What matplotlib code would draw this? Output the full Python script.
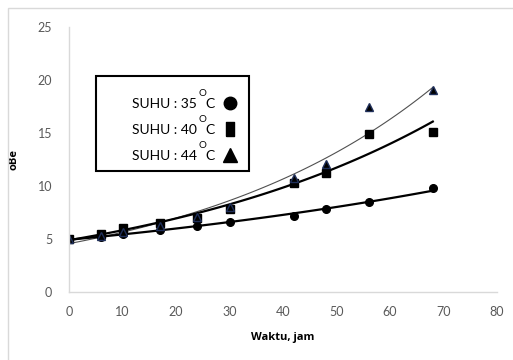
import numpy as np
import matplotlib
matplotlib.use("Agg")
import matplotlib.pyplot as plt
from matplotlib.patches import Rectangle

plt.rcParams['font.family'] = ['Lato', 'DejaVu Sans']

# waktu (jam)
waktu = [0, 6, 10, 17, 24, 30, 42, 48, 56, 68]

# oBe per suhu
suhu_35 = [5.0, 5.2, 5.45, 5.85, 6.2, 6.6, 7.2, 7.8, 8.5, 9.8]
suhu_40 = [5.0, 5.5, 6.0, 6.5, 7.0, 7.8, 10.3, 11.2, 14.9, 15.1]
suhu_44 = [5.0, 5.3, 5.7, 6.2, 7.1, 8.05, 10.8, 12.05, 17.5, 19.05]

suhu = ['35', '40', '44']
x_ticks = [0, 10, 20, 30, 40, 50, 60, 70, 80]
y_ticks = [0, 5, 10, 15, 20, 25]


def exp_trend(x, y):
    # trendline eksponensial seperti di Excel
    b, a = np.polyfit(x, np.log(y), 1)
    xs = np.linspace(min(x), max(x), 100)
    return xs, np.exp(a) * np.exp(b * xs)


fig = plt.figure(figsize=(5.13, 3.6), dpi=100)
fig.patches.append(Rectangle((8 / 513, -0.1), 1.2, (352 / 360) + 0.1,
                             transform=fig.transFigure, fill=False,
                             edgecolor='#d9d9d9', linewidth=1))
ax = fig.add_axes([69 / 513, 68 / 360, 428 / 513, 265 / 360])

x = np.array(waktu)
xs, ys = exp_trend(x, suhu_44)
ax.plot(xs, ys, color='#505050', linewidth=0.8)
xs, ys = exp_trend(x, suhu_40)
ax.plot(xs, ys, color='black', linewidth=1.6)
xs, ys = exp_trend(x, suhu_35)
ax.plot(xs, ys, color='black', linewidth=1.6)

ax.plot(x, suhu_35, 'o', color='black', markersize=5.5, linestyle='none')
ax.plot(x, suhu_40, 's', color='black', markersize=5.5, linestyle='none')
ax.plot(x, suhu_44, '^', color='black', markeredgecolor='#1f2f5a',
        markersize=6, linestyle='none')

ax.set_xlim(0, 80)
ax.set_ylim(0, 25)
ax.set_xticks(x_ticks)
ax.set_yticks(y_ticks)
ax.tick_params(length=0, labelsize=9, colors='#595959', pad=10)
ax.tick_params(axis='y', pad=12)
for s in ['top', 'right']:
    ax.spines[s].set_visible(False)
for s in ['left', 'bottom']:
    ax.spines[s].set_color('#d9d9d9')
    ax.spines[s].set_linewidth(1)

ax.set_xlabel('Waktu, jam', fontsize=8, fontweight='bold', labelpad=10,
              family='Open Sans')
ax.set_ylabel('oBe', fontsize=8, fontweight='bold', labelpad=13,
              family='Open Sans')


# kotak keterangan (posisi dalam piksel gambar)
def px(xp, yp):
    return ((xp - 69) / 428, (292 - yp) / 265)


x0, y0 = px(96, 171)
x1, y1 = px(249, 76)
ax.add_patch(Rectangle((x0, y0), x1 - x0, y1 - y0, transform=ax.transAxes,
                       fill=False, edgecolor='black', linewidth=1.5, clip_on=False))
tall_rect = [(-0.3, -0.5), (0.3, -0.5), (0.3, 0.5), (-0.3, 0.5), (-0.3, -0.5)]
markers = ['o', tall_rect, '^']
sizes = [9, 10, 10]
for i, (s, m) in enumerate(zip(suhu, markers)):
    yp = [104, 130, 156][i]
    kw = dict(transform=ax.transAxes, color='black')
    ax.text(*px(197, yp), 'SUHU : ' + s, ha='right', va='center', fontsize=10, **kw)
    ax.text(*px(202, yp - 10), 'O', ha='center', va='center', fontsize=7, **kw)
    ax.text(*px(210, yp), 'C', ha='center', va='center', fontsize=10, **kw)
    ax.plot(*[[v] for v in px(230, yp - 1)], marker=m, color='black',
            markersize=sizes[i], linestyle='none', transform=ax.transAxes,
            clip_on=False)

fig.savefig('out.png', dpi=100)
